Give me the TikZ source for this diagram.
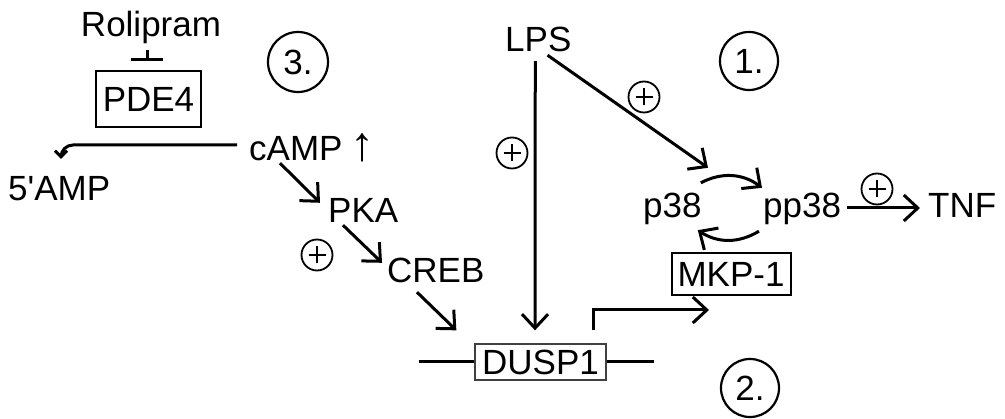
\documentclass[tikz,border=0pt]{standalone}
\usepackage{fontspec}
\setmainfont{Liberation Sans}
\usetikzlibrary{arrows.meta}
\newfontfamily\lblfont{Liberation Sans}
\tikzset{
  lbl/.style={font={\lblfont\fontsize{35pt}{40pt}\selectfont}, inner sep=0pt, text height=25pt, text depth=0pt},
  gbox/.style={lbl, draw, line width=2pt},
  numc/.style={lbl, draw, circle, line width=2.2pt, minimum size=60pt},
  plusc/.style={draw, circle, line width=1.8pt, minimum size=31pt, inner sep=0pt,
    path picture={\draw[line width=2.2pt] ([xshift=-8.5pt]path picture bounding box.center) -- ([xshift=8.5pt]path picture bounding box.center);
                  \draw[line width=2.2pt] ([yshift=-8.5pt]path picture bounding box.center) -- ([yshift=8.5pt]path picture bounding box.center);}},
  act/.style={line width=3pt, -{Straight Barb[length=14pt,width=26pt]}},
  smallact/.style={line width=3pt, -{Straight Barb[length=6pt,width=12pt]}},
  inh/.style={line width=3pt, -{Bar[width=32pt]}},
}
\begin{document}
\begin{tikzpicture}[x=1pt,y=-1pt]
\useasboundingbox (0,0) rectangle (1005,419);
\fill[white] (0,0) rectangle (1005,419);

% nodes
\node[lbl] (rol) at (151,24) {Rolipram};
\node[gbox, minimum width=105pt, minimum height=56pt] (pde4) at (148.5,99) {PDE4};
\node[lbl, anchor=west] (camp) at (249,148) {cAMP\hspace{8pt}{\fontsize{48pt}{48pt}\selectfont ↑}};
\node[lbl, anchor=west] (amp5) at (8,188) {5'AMP};
\node[lbl, anchor=west] (pka) at (328,210) {PKA};
\node[lbl, anchor=west] (creb) at (387,270) {CREB};
\node[lbl, anchor=west] (lps) at (505,39) {LPS};
\node[lbl, anchor=west] (p38) at (643,205) {p38};
\node[lbl, anchor=west] (pp38) at (763,205) {pp38};
\node[lbl, anchor=west] (tnf) at (928,205) {TNF};
\node[gbox, minimum width=119pt, minimum height=42pt] (mkp) at (731,274) {MKP-1};
\node[lbl, draw=black!75, line width=1.3pt, minimum width=131pt, minimum height=36pt] (dusp) at (540.5,362) {DUSP1};

\node[numc] (n3) at (298,62) {3.};
\node[numc, minimum size=58pt] (n1) at (749,61) {1.};
\node[numc, minimum size=58pt] (n2) at (750,388) {2.};

\node[plusc] (pl1) at (512,153) {};
\node[plusc] (pl2) at (317,255) {};
\node[plusc] (pl3) at (644,97) {};
\node[plusc] (pl4) at (877,189) {};

% connectors
\draw[inh] ([xshift=-4pt,yshift=-13.5pt]rol.south) -- ([xshift=-1.5pt,yshift=9pt]pde4.north);
\draw[smallact, rounded corners=12pt] ([xshift=-12pt,yshift=3pt]camp.west) -| ([xshift=53pt,yshift=16.5pt]amp5.north west);
\draw[act] ([xshift=31pt,yshift=-2.5pt]camp.south west) -- ([xshift=-8pt,yshift=-5.5pt]pka.north west);
\draw[act] ([xshift=15pt,yshift=-2.5pt]pka.south west) -- ([xshift=-5pt,yshift=-5.5pt]creb.north west);
\draw[act] ([xshift=30pt,yshift=-9.5pt]creb.south west) -- ([xshift=-18pt,yshift=13pt]dusp.north west);
\draw[act] ([xshift=-3pt,yshift=-9.5pt]lps.south) -- ([xshift=-5.5pt,yshift=13pt]dusp.north);
\draw[act] ([xshift=-24pt,yshift=-3.5pt]lps.south east) -- ([xshift=-55pt,yshift=24.5pt]pp38.north west);
\draw[act] ([xshift=-1pt,yshift=9.5pt]p38.north east) to[bend left=32] ([xshift=-1pt,yshift=4.5pt]pp38.north west);
\draw[act] ([xshift=-4pt,yshift=-13.5pt]pp38.south west) to[bend left=32] ([xshift=-4pt,yshift=-12.5pt]p38.south east);
\draw[act] ([xshift=6pt,yshift=-3pt]pp38.east) -- ([xshift=-8pt,yshift=-3pt]tnf.west);
\draw[act] ([xshift=-13pt,yshift=13pt]dusp.north east) |- ([xshift=38.5pt,yshift=-14pt]mkp.south west);
\draw[line width=3pt] (dusp.west) -- ([xshift=-55pt]dusp.west);
\draw[line width=3pt] (dusp.east) -- ([xshift=47pt]dusp.east);
\end{tikzpicture}
\end{document}
